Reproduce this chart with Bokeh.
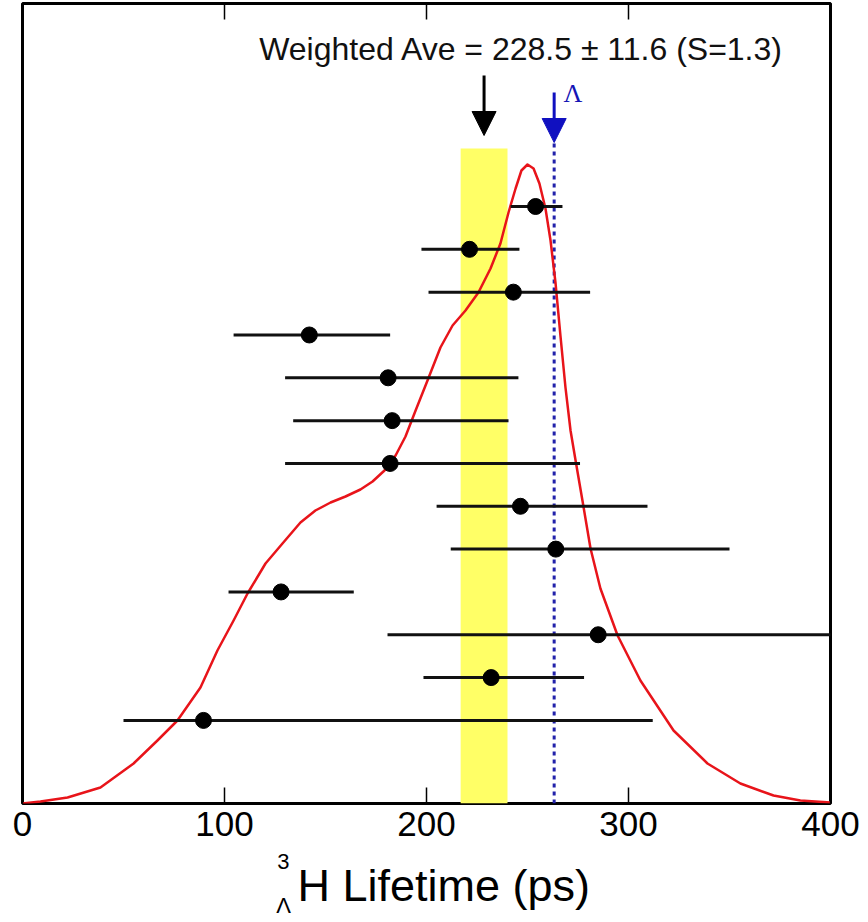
from bokeh.plotting import figure
from bokeh.layouts import column
from bokeh.models import (Range1d, LinearAxis, FixedTicker, Label, Arrow,
                          NormalHead, ColumnDataSource)
from bokeh.core.properties import value
from bokeh.embed import file_html
from bokeh.resources import INLINE

# ---------------- data ----------------
# measurements, listed from top row to bottom row (ps)
lifetime = [254.0, 221.3, 243.0, 142.0, 181.0, 183.0, 182.0, 246.5, 264.0, 128.0, 285.0, 232.0, 89.6]
err_lo = [241.6, 197.5, 201.0, 104.5, 130.0, 134.0, 130.0, 205.0, 212.0, 102.0, 180.7, 198.5, 50.0]
err_hi = [267.3, 246.0, 281.0, 182.0, 245.5, 240.6, 276.0, 309.4, 350.0, 164.0, 420.0, 278.0, 312.0]
row = list(range(len(lifetime), 0, -1))   # 13 .. 1

# ideogram (red curve) (arbitrary height units)
ideo_x = [0.0, 8.9, 22.3, 38.6, 55.0, 66.8, 76.7, 88.1, 96.5, 104.5, 111.4, 120.3,
          128.7, 137.6, 145.0, 152.5, 159.9, 167.3, 173.3, 179.2, 184.7, 189.6,
          194.6, 200.5, 206.9, 212.9, 219.3, 225.7, 231.7, 236.6, 240.6, 244.1,
          247.0, 250.0, 253.0, 255.9, 258.9, 261.4, 263.9, 266.3, 268.8, 271.3,
          273.8, 277.2, 281.2, 286.1, 294.6, 305.9, 322.3, 339.1, 355.4, 371.8,
          385.1, 400.0]
ideo_y = [0, 2, 6, 16, 40, 63, 83, 116, 153, 183, 210, 240,
          260, 281, 293, 301, 307, 314, 322, 333, 348, 367,
          393, 423, 456, 478, 493, 511, 535, 560, 591, 615,
          633, 639, 635, 620, 595, 563, 520, 468, 416, 373,
          343, 303, 255, 215, 168, 123, 73, 40, 20, 8,
          3, 1]

weighted_ave = 228.5
weighted_err = 11.6
lambda_life = 263.2
x_ticks = [0, 100, 200, 300, 400]
x_title = "H Lifetime (ps)"
title_sup = "3"
title_sub = "\u039b"
avg_text = "Weighted Ave = 228.5 \u00b1 11.6 (S=1.3)"

# ---------------- main figure ----------------
W = 868
H1 = 850
p = figure(width=W, height=H1, output_backend="svg", toolbar_location=None,
           x_range=Range1d(0, 400), y_range=Range1d(-0.94, 17.74),
           y_axis_location=None, x_axis_location="below",
           min_border_left=22, min_border_right=38, min_border_top=3,
           min_border_bottom=47)
p.background_fill_color = "white"
p.border_fill_color = "white"
p.xgrid.visible = False
p.ygrid.visible = False
p.outline_line_color = "black"
p.outline_line_width = 3

# helper ranges: frame-pixel range for decorations, ideogram height range
p.extra_y_ranges = {"px": Range1d(0, 800), "ideo": Range1d(0, 800)}

ax = p.xaxis[0]
ax.ticker = FixedTicker(ticks=x_ticks)
ax.axis_line_color = None
ax.major_tick_in = 16
ax.major_tick_out = 0
ax.major_tick_line_width = 1.5
ax.minor_tick_line_color = None
ax.major_label_text_font = "Liberation Sans"
ax.major_label_text_font_size = "35px"
ax.major_label_text_color = "black"
ax.major_label_standoff = 8

top = LinearAxis(ticker=FixedTicker(ticks=x_ticks), axis_line_color=None,
                 major_tick_in=16, major_tick_out=0, major_tick_line_width=1.5,
                 minor_tick_line_color=None,
                 major_label_overrides={t: "" for t in x_ticks},
                 major_label_standoff=0)
p.add_layout(top, "above")

# yellow band for weighted average
p.quad(left=[weighted_ave - weighted_err], right=[weighted_ave + weighted_err],
       bottom=[0], top=[655], y_range_name="px",
       fill_color="#ffff66", line_color=None)

# lambda lifetime dashed line
p.segment(x0=[lambda_life], x1=[lambda_life], y0=[0], y1=[660], y_range_name="px",
          line_color="#2222aa", line_width=3, line_dash="4 4")

# ideogram curve
p.line(ideo_x, ideo_y, y_range_name="ideo", line_color="#e8141a", line_width=2.5,
       line_join="round")

# error bars and points
src = ColumnDataSource(dict(x=lifetime, lo=err_lo, hi=err_hi, y=row))
p.segment(x0="lo", x1="hi", y0="y", y1="y", source=src, line_color="#111111", line_width=3)
p.scatter(x="x", y="y", source=src, size=16, fill_color="black", line_color="black")

# arrows
p.add_layout(Arrow(end=NormalHead(size=24, fill_color="black", line_color="black"),
                   x_start=weighted_ave, y_start=728, x_end=weighted_ave, y_end=668,
                   y_range_name="px", line_color="black", line_width=3))
p.add_layout(Arrow(end=NormalHead(size=24, fill_color="#1010c0", line_color="#1010c0"),
                   x_start=lambda_life, y_start=711, x_end=lambda_life, y_end=661,
                   y_range_name="px", line_color="#1010c0", line_width=3))

# texts inside the frame
p.add_layout(Label(x=247, y=755, y_range_name="px", text=avg_text,
                   text_font="Liberation Sans", text_font_size="32px", text_color="#111111",
                   text_align="center", text_baseline="middle"))
p.add_layout(Label(x=272.5, y=710, y_range_name="px", text="\u039b",
                   text_font="Liberation Serif", text_font_size="26px", text_color="#1515b5",
                   text_align="center", text_baseline="middle"))

# ---------------- axis-title strip ----------------
H2 = 922 - H1
t = figure(width=W, height=H2, output_backend="svg", toolbar_location=None,
           x_range=p.x_range, y_range=Range1d(0, H2),
           x_axis_location=None, y_axis_location=None,
           min_border_left=22, min_border_right=38, min_border_top=0, min_border_bottom=0)
t.outline_line_color = None
t.xgrid.visible = False
t.ygrid.visible = False
t.background_fill_color = "white"
t.border_fill_color = "white"

t.text(x=[136.1], y=[H2 - 35], text=[x_title], text_font=value("Liberation Sans"),
       text_font_size="45px", text_color="black", text_align="left", text_baseline="middle")
t.text(x=[129.2], y=[H2 - 11], text=[title_sup], text_font=value("Liberation Sans"),
       text_font_size="22px", text_color="black", text_align="center", text_baseline="middle")
t.text(x=[129.2], y=[H2 - 55], text=[title_sub], text_font=value("Liberation Sans"),
       text_font_size="22px", text_color="black", text_align="center", text_baseline="middle")

layout = column(p, t, spacing=0)
open("out.html", "w").write(file_html(layout, INLINE))
